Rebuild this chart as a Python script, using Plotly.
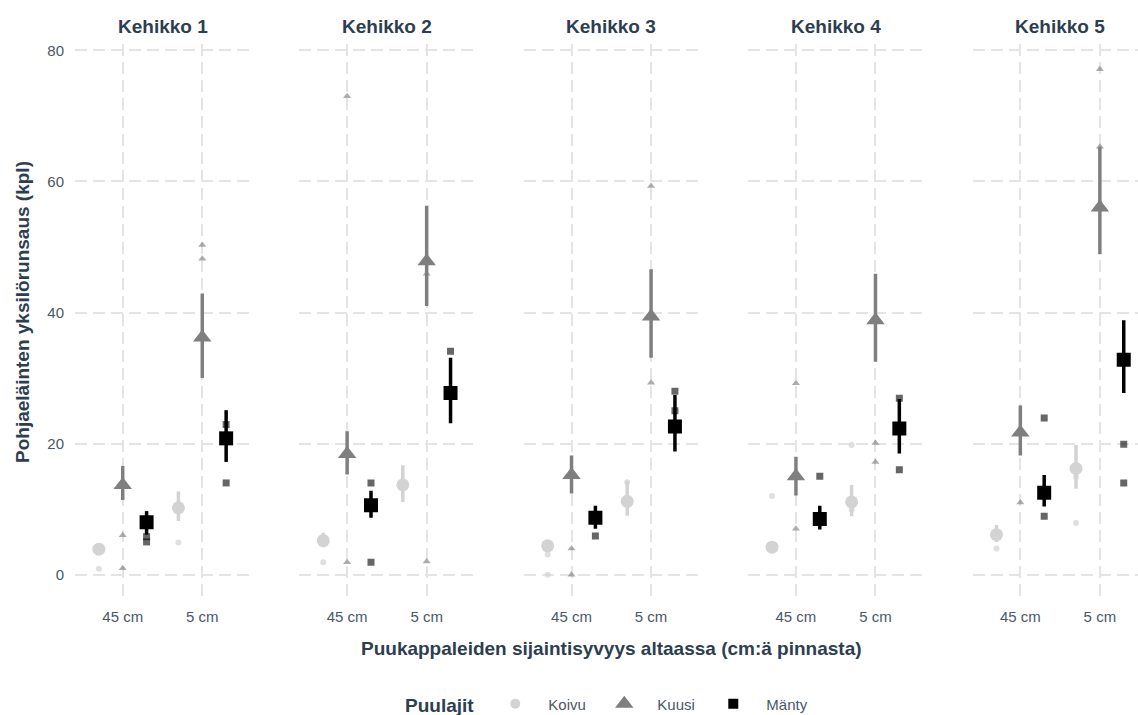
import plotly.graph_objects as go

# ---------------- data ----------------
panels = ["Kehikko 1", "Kehikko 2", "Kehikko 3", "Kehikko 4", "Kehikko 5"]
depths = ["45 cm", "5 cm"]
species = ["Koivu", "Kuusi", "Mänty"]

# means per panel: [45 cm, 5 cm]
koivu_mean = [[3.9, 10.2], [5.2, 13.7], [4.4, 11.2], [4.2, 11.1], [6.1, 16.2]]
koivu_lo = [[3.4, 8.2], [4.2, 11.1], [3.7, 9.0], [3.6, 8.9], [5.0, 13.1]]
koivu_hi = [[4.5, 12.7], [6.4, 16.7], [5.2, 14.3], [5.0, 13.7], [7.6, 19.8]]

kuusi_mean = [[13.7, 36.2], [18.4, 47.8], [15.2, 39.4], [15.0, 38.8], [21.7, 56.0]]
kuusi_lo = [[11.4, 30.0], [15.3, 41.0], [12.4, 33.1], [12.1, 32.5], [18.2, 48.9]]
kuusi_hi = [[16.6, 42.9], [21.9, 56.3], [18.2, 46.6], [18.0, 45.9], [25.8, 65.3]]

manty_mean = [[8.0, 20.8], [10.6, 27.7], [8.7, 22.6], [8.5, 22.3], [12.5, 32.8]]
manty_lo = [[6.1, 17.2], [8.7, 23.1], [7.0, 18.8], [6.9, 18.5], [10.4, 27.7]]
manty_hi = [[9.7, 25.1], [12.8, 33.1], [10.5, 27.4], [10.5, 26.8], [15.2, 38.8]]

# raw observations: panel index, depth index, value
koivu_raw_panel = [0, 0, 1, 2, 2, 2, 3, 3, 3, 4, 4, 4]
koivu_raw_depth = [0, 1, 0, 0, 0, 1, 0, 1, 1, 0, 1, 1]
koivu_raw_value = [0.9, 4.9, 1.9, 3.1, 0.0, 14.1, 12.0, 19.8, 9.9, 4.0, 7.9, 14.9]

kuusi_raw_panel = [0, 0, 0, 0, 1, 1, 1, 1, 2, 2, 2, 2, 3, 3, 3, 3, 4, 4, 4]
kuusi_raw_depth = [0, 0, 1, 1, 0, 0, 1, 1, 0, 0, 1, 1, 0, 0, 1, 1, 0, 1, 1]
kuusi_raw_value = [6.0, 1.0, 50.3, 48.2, 73.0, 1.9, 45.9, 2.0, 4.0, 0.0, 59.3, 29.3,
                   29.2, 7.0, 20.1, 17.2, 11.0, 77.1, 65.3]

manty_raw_panel = [0, 0, 0, 0, 1, 1, 1, 2, 2, 2, 3, 3, 3, 4, 4, 4, 4]
manty_raw_depth = [0, 0, 1, 1, 0, 0, 1, 0, 1, 1, 0, 1, 1, 0, 0, 1, 1]
manty_raw_value = [5.8, 5.0, 22.9, 14.0, 14.0, 1.9, 34.1, 5.9, 28.0, 25.0,
                   15.0, 26.9, 16.0, 23.9, 8.9, 19.9, 14.0]

# ---------------- styles ----------------
colors = {"Koivu": "#d3d3d3", "Kuusi": "#7f7f7f", "Mänty": "#000000"}
raw_colors = {"Koivu": "rgba(211,211,211,0.7)", "Kuusi": "rgba(127,127,127,0.65)",
              "Mänty": "rgba(0,0,0,0.6)"}
symbols = {"Koivu": "circle", "Kuusi": "triangle-up", "Mänty": "square"}
mean_size = {"Koivu": 13, "Kuusi": 16, "Mänty": 14}
raw_size = {"Koivu": 6, "Kuusi": 7, "Mänty": 7}
legend_size = {"Koivu": 10, "Kuusi": 17, "Mänty": 10}
dodge = {"Koivu": -0.3, "Kuusi": 0.0, "Mänty": 0.3}

means = {"Koivu": (koivu_mean, koivu_lo, koivu_hi),
         "Kuusi": (kuusi_mean, kuusi_lo, kuusi_hi),
         "Mänty": (manty_mean, manty_lo, manty_hi)}
raws = {"Koivu": (koivu_raw_panel, koivu_raw_depth, koivu_raw_value),
        "Kuusi": (kuusi_raw_panel, kuusi_raw_depth, kuusi_raw_value),
        "Mänty": (manty_raw_panel, manty_raw_depth, manty_raw_value)}

W, H = 1138, 715
ML, MR, MT, MB = 75, 0, 44, 115
PW = W - ML - MR
PH = H - MT - MB
panel_step = 224.4
panel_w = 175.0
px_per_unit = panel_w / 2.2

title_color = "#2c3e50"
tick_color = "#4a5868"
grid_color = "#e4e4e4"
font_family = "Liberation Sans, Arial, sans-serif"

fig = go.Figure()

for i, pname in enumerate(panels):
    xname = "x" if i == 0 else f"x{i + 1}"
    yname = "y" if i == 0 else f"y{i + 1}"
    for sp in species:
        m, lo, hi = means[sp]
        ys = m[i]
        xs = [k + 1 + dodge[sp] for k in range(len(depths))]
        fig.add_trace(go.Scatter(
            x=xs, y=ys, mode="markers", xaxis=xname, yaxis=yname,
            marker=dict(symbol=symbols[sp], size=mean_size[sp], color=colors[sp]),
            error_y=dict(type="data", symmetric=False,
                         array=[hi[i][k] - ys[k] for k in range(len(depths))],
                         arrayminus=[ys[k] - lo[i][k] for k in range(len(depths))],
                         color=colors[sp], thickness=3.5, width=0),
            showlegend=False, hoverinfo="skip"))
    for sp in species:
        rp, rd, rv = raws[sp]
        xs = [rd[j] + 1 + dodge[sp] for j in range(len(rp)) if rp[j] == i]
        ys = [rv[j] for j in range(len(rp)) if rp[j] == i]
        fig.add_trace(go.Scatter(
            x=xs, y=ys, mode="markers", xaxis=xname, yaxis=yname,
            marker=dict(symbol=symbols[sp], size=raw_size[sp], color=raw_colors[sp]),
            showlegend=False, hoverinfo="skip"))

# legend-only traces
for sp in species:
    fig.add_trace(go.Scatter(
        x=[None], y=[None], mode="markers", name=sp,
        marker=dict(symbol=symbols[sp], size=legend_size[sp], color=colors[sp]),
        showlegend=True))

layout = dict(
    width=W, height=H,
    margin=dict(l=ML, r=MR, t=MT, b=MB),
    paper_bgcolor="white", plot_bgcolor="white",
    font=dict(family=font_family, color=tick_color),
    showlegend=True,
    legend=dict(orientation="h", x=0.5, xanchor="center",
                yref="container", y=(H - 705) / H, yanchor="middle",
                title=dict(text="<b>Puulajit</b>", font=dict(size=19, color=title_color)),
                font=dict(size=15, color=tick_color), itemsizing="trace",
                itemwidth=56, entrywidth=38, entrywidthmode="pixels"),
)

annotations = []
for i, pname in enumerate(panels):
    left = panel_step * i
    right = min(left + panel_w, PW)
    xrange_hi = 0.4 + (right - left) / px_per_unit
    xkey = "xaxis" if i == 0 else f"xaxis{i + 1}"
    ykey = "yaxis" if i == 0 else f"yaxis{i + 1}"
    xref = "y" if i == 0 else f"y{i + 1}"
    layout[xkey] = dict(
        domain=[left / PW, right / PW], range=[0.4, xrange_hi], anchor=xref,
        tickvals=[1, 2], ticktext=depths, showgrid=True, gridcolor=grid_color,
        griddash="12px,6px", gridwidth=1.5, zeroline=False, showline=False,
        ticks="", tickfont=dict(size=15, color=tick_color), ticklabelstandoff=6,
        fixedrange=True)
    yd = dict(
        domain=[0, 1], range=[-3.86, 80.96], anchor="x" if i == 0 else f"x{i + 1}",
        tickvals=[0, 20, 40, 60, 80], showgrid=True, gridcolor=grid_color,
        griddash="12px,6px", gridwidth=1.5, zeroline=False, showline=False,
        ticks="", showticklabels=(i == 0), tickfont=dict(size=15, color=tick_color),
        ticklabelstandoff=10)
    if i > 0:
        yd["matches"] = "y"
    layout[ykey] = yd
    annotations.append(dict(
        text=f"<b>{pname}</b>", xref="paper", yref="paper",
        x=(left + panel_w / 2) / PW, y=1 + (MT - 27) / PH, xanchor="center", yanchor="middle",
        showarrow=False, font=dict(size=19, color=title_color)))

annotations.append(dict(
    text="<b>Puukappaleiden sijaintisyvyys altaassa (cm:ä pinnasta)</b>",
    xref="paper", yref="paper", x=(611 - ML) / PW, y=-(649 - (MT + PH)) / PH,
    xanchor="center", yanchor="middle", showarrow=False,
    font=dict(size=19, color=title_color)))
annotations.append(dict(
    text="<b>Pohjaeläinten yksilörunsaus (kpl)</b>",
    xref="paper", yref="paper", x=(22 - ML) / PW, y=(MT + PH - 312) / PH,
    xanchor="center", yanchor="middle", textangle=-90, showarrow=False,
    font=dict(size=19, color=title_color)))
layout["annotations"] = annotations

fig.update_layout(**layout)
fig.write_html("out.html", config={"displayModeBar": False},
               post_script="document.body.style.margin='0';document.body.style.overflow='hidden';")
